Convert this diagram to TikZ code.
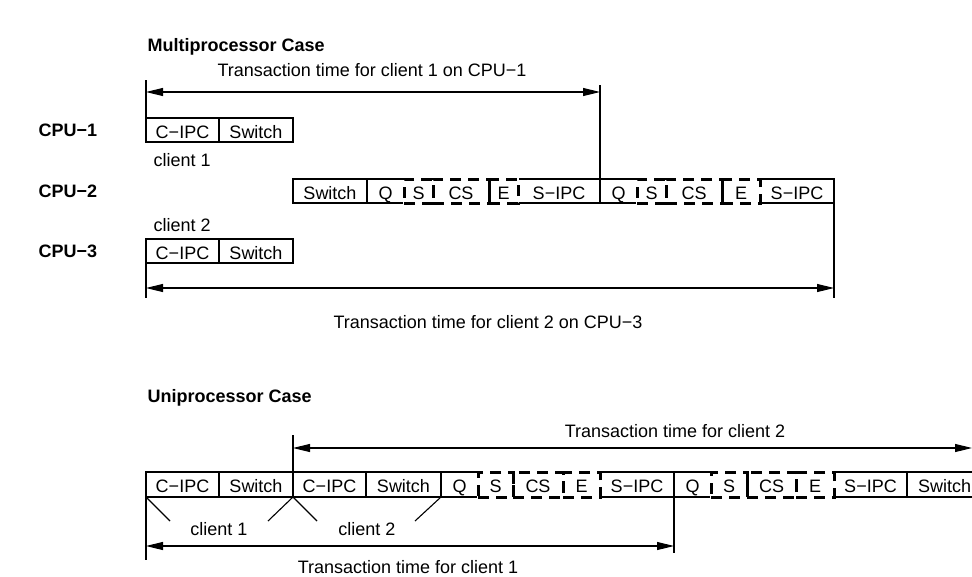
\documentclass[tikz,border=0pt]{standalone}
\usepackage{fontspec}
\setmainfont{Liberation Sans}
\usepackage{tikz}
\usetikzlibrary{arrows.meta,calc}
\newcommand{\diafont}{\fontsize{18}{21}\selectfont}

\begin{document}
\begin{tikzpicture}[x=1pt,y=-1pt,line width=1.1pt,
  cell/.style={draw,minimum height=24pt,inner sep=0pt,outer sep=0pt,
    text height=16pt,text depth=0pt,font=\diafont},
  dcell/.style={cell,line width=3pt,dash pattern=on 11pt off 7pt},
  lab/.style={inner sep=0pt,font=\diafont},
  head/.style={inner sep=0pt,font=\diafont\bfseries},
  dim/.style={{Triangle[length=17pt,width=8pt]}-{Triangle[length=17pt,width=8pt]}}]
\useasboundingbox (0,0) rectangle (972,576);
%\draw[help lines,step=50] (0,0) grid (972,576);

%%% multiprocessor
\node[head,anchor=west] (multi) at (147,47) {Multiprocessor Case};
\node[head,anchor=west] (cpu1) at (38,130) {CPU−1};
\node[head,anchor=west] (cpu2) at (38,191) {CPU−2};
\node[head,anchor=west] (cpu3) at (38,251) {CPU−3};
\node[lab,anchor=west] (cl1) at (153,160) {client 1};
\node[lab,anchor=west] (cl2) at (153,225) {client 2};

\node[cell,minimum width=73pt] (ma) at (182.5,130) {C−IPC};
\node[cell,minimum width=74pt] (mb) at (256,130) {Switch};

\node[cell,minimum width=74pt] (msw) at (330,191) {Switch};
\node[cell,minimum width=37pt] (mq1) at (385.5,191) {Q};
\node[cell,minimum width=82pt] (msipc1) at (559,191) {S−IPC};
\node[cell,minimum width=37pt] (mq2) at (618.5,191) {Q};
\node[cell,minimum width=74pt] (msipc2) at (797,191) {S−IPC};
% wipe the shared edges, then the dashed part
\fill[white] ($(mq1.north east)+(-0.8,-0.8)$) rectangle ($(msipc1.south west)+(0.8,0.8)$);
\fill[white] ($(mq2.north east)+(-0.8,-0.8)$) rectangle ($(msipc2.south west)+(0.8,0.8)$);
\node[dcell,minimum width=29pt] (ms1) at (418.5,191) {S};
\node[dcell,minimum width=56pt] (mcs1) at (461,191) {CS};
\node[dcell,minimum width=29pt] (me1) at (503.5,191) {E};
\node[dcell,minimum width=29pt] (ms2) at (651.5,191) {S};
\node[dcell,minimum width=56pt] (mcs2) at (694,191) {CS};
\node[dcell,minimum width=38pt] (me2) at (741,191) {E};

\node[cell,minimum width=73pt] (mc) at (182.5,251) {C−IPC};
\node[cell,minimum width=74pt] (md) at (256,251) {Switch};

\draw (ma.north west) -- ++(0,-38);
\draw (msipc1.north east) -- ++(0,-94);
\draw[dim] (ma.west |- 0,92) -- (msipc1.east |- 0,92);
\node[lab] (t1) at (372,70) {Transaction time for client 1 on CPU−1};

\draw (mc.south west) -- ++(0,35);
\draw (msipc2.south east) -- ++(0,95);
\draw[dim] (mc.west |- 0,288) -- (msipc2.east |- 0,288);
\node[lab] (t2) at (488,322) {Transaction time for client 2 on CPU−3};

%%% uniprocessor
\node[head,anchor=west] (uni) at (147,398) {Uniprocessor Case};

\node[cell,minimum height=25pt,minimum width=73pt] (ua) at (182.5,484.5) {C−IPC};
\node[cell,minimum height=25pt,minimum width=74pt] (ub) at (256,484.5) {Switch};
\node[cell,minimum height=25pt,minimum width=73pt] (uc) at (329.5,484.5) {C−IPC};
\node[cell,minimum height=25pt,minimum width=75pt] (ud) at (403.5,484.5) {Switch};
\node[cell,minimum height=25pt,minimum width=37pt] (uq1) at (459.5,484.5) {Q};
\node[cell,minimum height=25pt,minimum width=74pt] (usipc1) at (637,484.5) {S−IPC};
\node[cell,minimum height=25pt,minimum width=37pt] (uq2) at (692.5,484.5) {Q};
\node[cell,minimum height=25pt,minimum width=73pt] (usipc2) at (870.5,484.5) {S−IPC};
\node[cell,minimum height=25pt,minimum width=75pt] (usw) at (944.5,484.5) {Switch};
\fill[white] ($(uq1.north east)+(-0.8,-0.8)$) rectangle ($(usipc1.south west)+(0.8,0.8)$);
\fill[white] ($(uq2.north east)+(-0.8,-0.8)$) rectangle ($(usipc2.south west)+(0.8,0.8)$);
\node[dcell,minimum height=25pt,minimum width=35pt] (us1) at (495.5,484.5) {S};
\node[dcell,minimum height=25pt,minimum width=50pt] (ucs1) at (538,484.5) {CS};
\node[dcell,minimum height=25pt,minimum width=37pt] (ue1) at (581.5,484.5) {E};
\node[dcell,minimum height=25pt,minimum width=36pt] (us2) at (729,484.5) {S};
\node[dcell,minimum height=25pt,minimum width=49pt] (ucs2) at (771.5,484.5) {CS};
\node[dcell,minimum height=25pt,minimum width=38pt] (ue2) at (815,484.5) {E};

\coordinate (uend) at (972,448);
\draw (uc.north west) -- ++(0,-37);
\draw[dim] (uc.west |- uend) -- (uend);
\node[lab] (t3) at (675,431) {Transaction time for client 2};

\draw (ua.south west) -- ++(24,24);
\draw (ub.south east) -- ++(-25,24);
\draw (uc.south west) -- ++(24,24);
\draw (ud.south east) -- ++(-26,24);
\node[lab] (ucl1) at (219,529) {client 1};
\node[lab] (ucl2) at (367,529) {client 2};

\draw (ua.south west) -- ++(0,63);
\draw (usipc1.south east) -- ++(0,56);
\draw[dim] (ua.west |- 0,546) -- (usipc1.east |- 0,546);
\node[lab] (t4) at (408,567) {Transaction time for client 1};
\end{tikzpicture}
\end{document}
